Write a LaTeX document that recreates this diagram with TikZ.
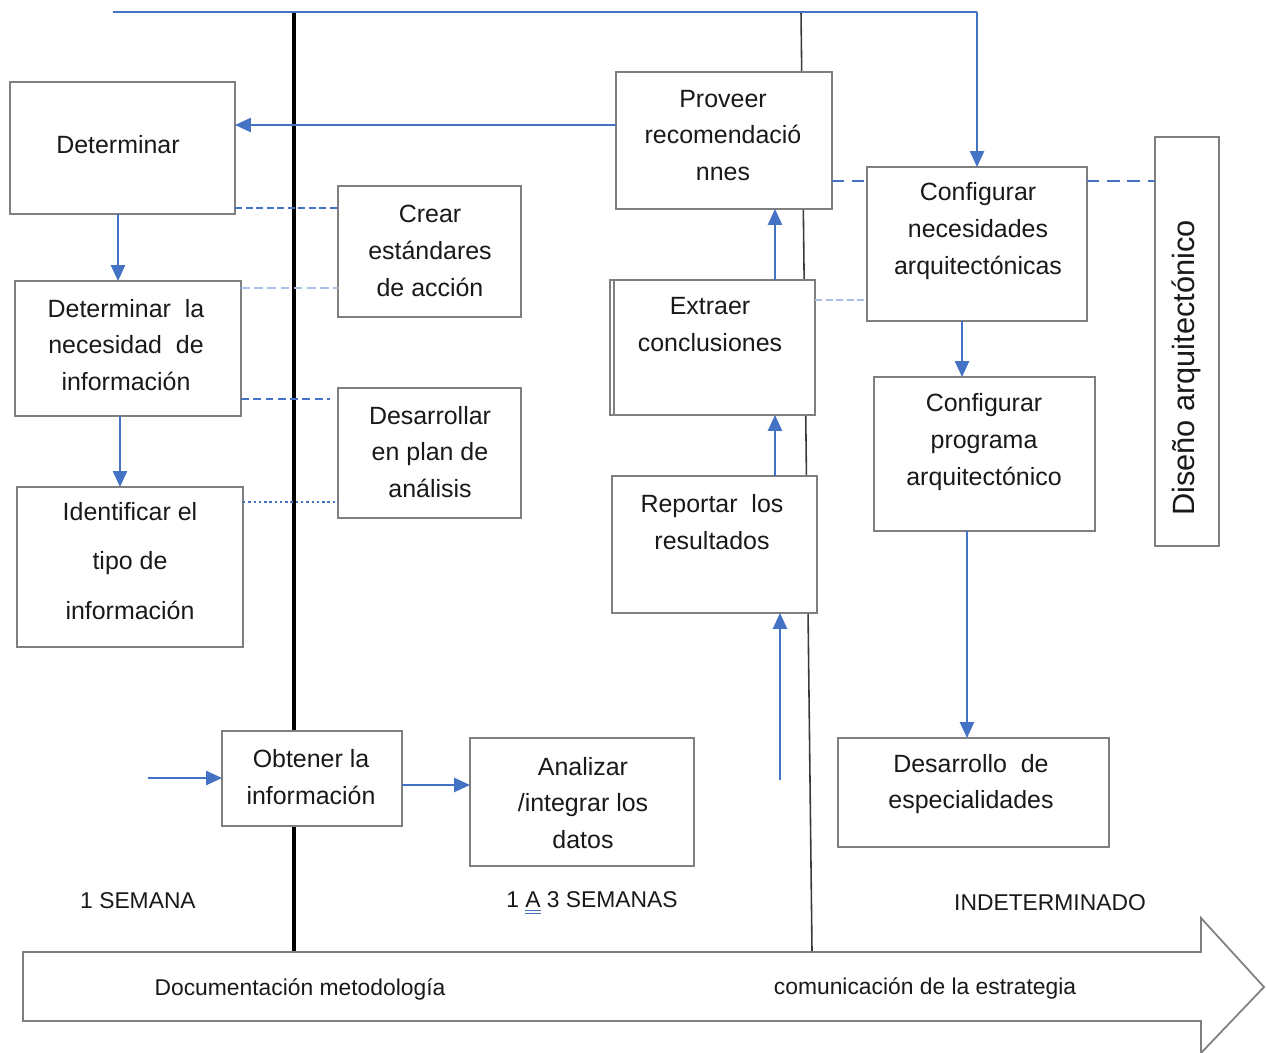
\documentclass[tikz,border=0pt]{standalone}
\usepackage{fontspec}
\setmainfont{Liberation Sans}
\usetikzlibrary{arrows.meta}
\definecolor{wblue}{HTML}{4472C4}
\definecolor{lblue}{HTML}{A9C0E8}
\definecolor{bgray}{HTML}{7F7F7F}
\definecolor{dgray}{HTML}{3A3A3A}
\newcommand{\uA}{{\setbox0\hbox{A}\rlap{\color{wblue}\rule[-0.25ex]{\wd0}{0.6pt}}\rlap{\color{wblue}\rule[-0.55ex]{\wd0}{0.6pt}}A}}
\begin{document}
\begin{tikzpicture}[x=0.02cm,y=-0.02cm,
  box/.style={draw=bgray, line width=0.9pt, fill=white, inner sep=0pt, outer sep=0pt},
  txt/.style={align=center, font=\fontsize{14.2}{21}\selectfont, inner sep=0pt, text=black!90},
  lab/.style={font=\fontsize{13}{16}\selectfont, inner sep=0pt, text=black!90},
  arr/.style={draw=wblue, line width=1.1pt, -{Triangle[width=8pt,length=9pt]}},
  dshA/.style={draw=wblue, line width=0.9pt, dash pattern=on 4pt off 2pt},
  dshB/.style={draw=lblue, line width=1.4pt, dash pattern=on 5pt off 2.5pt},
  dshC/.style={draw=wblue, line width=1pt, dash pattern=on 4.5pt off 2.5pt},
  dotL/.style={draw=wblue, line width=1.1pt, dash pattern=on 1.4pt off 1.6pt},
  dshT/.style={draw=wblue, line width=1.6pt, dash pattern=on 7pt off 4.5pt},
  dshD/.style={draw=lblue, line width=1.4pt, dash pattern=on 4pt off 2pt}
]
\useasboundingbox (0,0) rectangle (1266,1053);

% helper coordinates
\coordinate (t0) at (113,12);
\coordinate (r125) at (0,125);
\coordinate (r208) at (0,208);
\coordinate (r288) at (0,288);
\coordinate (r399) at (0,399);
\coordinate (r502) at (0,502);
\coordinate (r778) at (0,778);
\coordinate (r785) at (0,785);
\coordinate (r181) at (0,181);
\coordinate (r300) at (0,300);
\coordinate (k118) at (118,0);
\coordinate (k120) at (120,0);
\coordinate (k775) at (775,0);
\coordinate (k962) at (962,0);
\coordinate (k967) at (967,0);
\coordinate (in1) at (148,778);
\coordinate (in2) at (780,780);

% bottom big arrow
\draw[bgray, line width=1pt, fill=white] (23,952) -- (1201,952) -- (1201,918) -- (1264,987) -- (1201,1053) -- (1201,1021) -- (23,1021) -- cycle;

% divider lines
\draw[black, line width=1.8pt] (294,12) -- (294,951);
\draw[dgray, line width=0.9pt] (801,12) -- (812,951);

% boxes
\node[box, minimum width=4.5cm, minimum height=2.64cm] (det) at (122.5,148) {};
\node[box, minimum width=3.66cm, minimum height=2.62cm] (crear) at (429.5,251.5) {};
\node[box, minimum width=4.52cm, minimum height=2.7cm] (nec) at (128,348.5) {};
\node[box, minimum width=3.66cm, minimum height=2.6cm] (desa) at (429.5,453) {};
\node[box, minimum width=4.52cm, minimum height=3.2cm] (iden) at (130,567) {};
\node[box, minimum width=3.6cm, minimum height=1.9cm] (obt) at (312,778.5) {};
\node[box, minimum width=4.48cm, minimum height=2.56cm] (anal) at (582,802) {};
\node[box, minimum width=4.32cm, minimum height=2.74cm] (prov) at (724,140.5) {};
\node[box, minimum width=4.02cm, minimum height=2.7cm] (extr) at (714.5,347.5) {};
\draw[bgray, line width=0.9pt] ([xshift=-0.08cm]extr.north west) rectangle (extr.south west);
\node[box, minimum width=4.1cm, minimum height=2.74cm] (rep) at (714.5,544.5) {};
\node[box, minimum width=4.4cm, minimum height=3.08cm] (cnec) at (977,244) {};
\node[box, minimum width=4.42cm, minimum height=3.08cm] (cprog) at (984.5,454) {};
\node[box, minimum width=5.42cm, minimum height=2.18cm] (desp) at (973.5,792.5) {};
\node[box, minimum width=1.28cm, minimum height=8.18cm] (dis) at (1187,341.5) {};

% box texts
\node[txt] (det-t) at (118,145) {Determinar};
\node[txt] (crear-t) at (430,251) {Crear\\est\'andares\\de acci\'on};
\node[txt] (nec-t) at (126,345) {Determinar\ \ la\\necesidad\ \ de\\informaci\'on};
\node[txt] (desa-t) at (430,452) {Desarrollar\\en plan de\\an\'alisis};
\node[txt, font=\fontsize{14.2}{28}\selectfont] (iden-t) at (130,561) {Identificar el\\tipo de\\informaci\'on};
\node[txt] (obt-t) at (311,777) {Obtener la\\informaci\'on};
\node[txt] (anal-t) at (583,803) {Analizar\\/integrar los\\datos};
\node[txt] (prov-t) at (723,135.5) {Proveer\\recomendaci\'o\\nnes};
\node[txt] (extr-t) at (710,324.5) {Extraer\\conclusiones};
\node[txt] (rep-t) at (712,522) {Reportar\ \ los\\resultados};
\node[txt] (cnec-t) at (978,231) {Configurar\\necesidades\\arquitect\'onicas};
\node[txt] (cprog-t) at (984,442) {Configurar\\programa\\arquitect\'onico};
\node[txt] (desp-t) at (971,784) {Desarrollo\ \ de\\especialidades};
\node[txt, font=\fontsize{17.5}{21}\selectfont, rotate=90] (dis-t) at (1186,368) {Dise\~no arquitect\'onico};

% labels
\node[lab] (l1) at (138,901) {1 SEMANA};
\node[lab] (l2) at (592,903) {1 \uA\ 3 SEMANAS};
\node[lab] (l3) at (1050,903) {INDETERMINADO};
\node[lab] (l4) at (300,989) {Documentaci\'on metodolog\'ia};
\node[lab] (l5) at (925,988) {comunicaci\'on de la estrategia};

% connectors
\draw[draw=wblue, line width=1.1pt] (t0) -- (t0 -| cnec.north);
\draw[arr] (t0 -| cnec.north) -- (cnec.north);
\draw[arr] (prov.west |- r125) -- (det.east |- r125);
\draw[arr] (det.south -| k118) -- (nec.north -| k118);
\draw[arr] (nec.south -| k120) -- (iden.north -| k120);
\draw[dshA] (det.east |- r208) -- (crear.west |- r208);
\draw[dshB] (nec.east |- r288) -- (crear.west |- r288);
\draw[dshC, shorten >=0.16cm] (nec.east |- r399) -- (desa.west |- r399);
\draw[dotL] (iden.east |- r502) -- (desa.west |- r502);
\draw[arr] (in1) -- (obt.west |- r778);
\draw[arr] (obt.east |- r785) -- (anal.west |- r785);
\draw[arr] (in2) -- (rep.south -| in2);
\draw[arr] (rep.north -| k775) -- (extr.south -| k775);
\draw[arr] (extr.north -| k775) -- (prov.south -| k775);
\draw[dshT] (prov.east |- r181) -- (cnec.west |- r181);
\draw[dshT] (cnec.east |- r181) -- (dis.west |- r181);
\draw[dshD] (extr.east |- r300) -- (cnec.west |- r300);
\draw[arr] (cnec.south -| k962) -- (cprog.north -| k962);
\draw[arr] (cprog.south -| k967) -- (desp.north -| k967);
\end{tikzpicture}
\end{document}
